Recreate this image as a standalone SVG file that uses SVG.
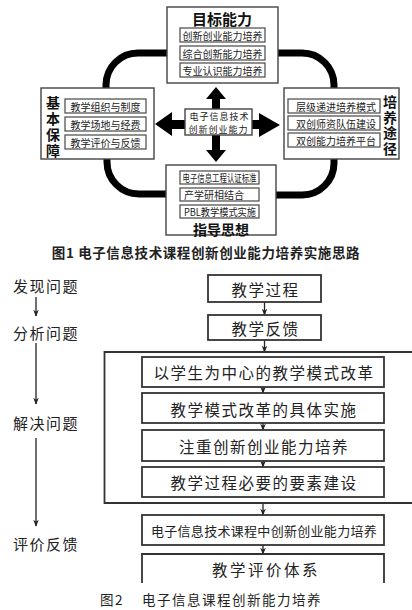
<svg xmlns="http://www.w3.org/2000/svg" width="412" height="610" viewBox="0 0 412 610">
<defs>
<style>
text{font-family:"Noto Sans CJK SC","Liberation Sans",sans-serif;fill:#222;}
.main{fill:#fff;stroke:#444;stroke-width:1.4;}
.sub{fill:#fff;stroke:#555;stroke-width:1.3;}
.st{font-size:10px;text-anchor:middle;dominant-baseline:central;}
.hd{font-size:15px;font-weight:bold;text-anchor:middle;dominant-baseline:central;fill:#111;}
.vt{font-size:14px;font-weight:bold;text-anchor:middle;writing-mode:vertical-rl;letter-spacing:2px;fill:#111;}
.curve{fill:none;stroke:#000;stroke-width:7;}
.blk{fill:#000;}
.box2{fill:#fff;stroke:#333;stroke-width:1.8;}
.t2{font-size:15.5px;text-anchor:middle;dominant-baseline:central;letter-spacing:1.5px;}
.lab{font-size:15px;text-anchor:middle;dominant-baseline:central;letter-spacing:1.5px;}
.ln{stroke:#222;stroke-width:1.3;fill:none;marker-end:url(#ah);}
.cap{font-size:13.5px;dominant-baseline:central;}
</style>
<marker id="ah" viewBox="0 0 10 10" refX="9" refY="5" markerWidth="7" markerHeight="7" markerUnits="userSpaceOnUse" orient="auto">
<path d="M0,1 L10,5 L0,9 L3,5 Z" fill="#222"/>
</marker>
</defs>

<g id="connectors1">
<path class="curve" d="M180,53 H138 A32,32 0 0 0 106,85 V89"/>
<path class="curve" d="M265,53 H302 A32,32 0 0 1 334,85 V89"/>
<path class="curve" d="M107,148 V162 A32,32 0 0 0 139,194 H181"/>
<path class="curve" d="M334,146 V163 A32,32 0 0 1 302,195 H260"/>
<polygon class="blk" points="216,87 226,99 220,99 220,109 212,109 212,99 206,99"/>
<polygon class="blk" points="216,162 226,150 220,150 220,135 212,135 212,150 206,150"/>
<polygon class="blk" points="155,124 172,112 172,120 185,120 185,129 172,129 172,136"/>
<polygon class="blk" points="280,125 259,113 259,120 252,120 252,129 259,129 259,137"/>
</g>

<g id="node-top">
<rect class="main" x="167" y="7" width="111" height="76"/>
<text class="hd" x="222" y="18">目标能力</text>
<rect class="sub" x="180" y="28" width="85" height="14"/>
<text class="st" x="222.5" y="35">创新创业能力培养</text>
<rect class="sub" x="180" y="46" width="85" height="14"/>
<text class="st" x="222.5" y="53">综合创新能力培养</text>
<rect class="sub" x="180" y="63" width="85" height="14"/>
<text class="st" x="222.5" y="70">专业认识能力培养</text>
</g>

<g id="node-left">
<rect class="main" x="41" y="88" width="113" height="71"/>
<text class="vt" x="53" y="128">基本保障</text>
<rect class="sub" x="65" y="99" width="81" height="14"/>
<text class="st" x="105.5" y="106">教学组织与制度</text>
<rect class="sub" x="65" y="117" width="81" height="14"/>
<text class="st" x="105.5" y="124">教学场地与经费</text>
<rect class="sub" x="65" y="135" width="81" height="14"/>
<text class="st" x="105.5" y="142">教学评价与反馈</text>
</g>

<g id="node-right">
<rect class="main" x="284" y="88" width="115" height="71"/>
<text class="vt" x="390" y="126" style="letter-spacing:1.5px">培养途径</text>
<rect class="sub" x="288" y="99" width="92" height="14"/>
<text class="st" x="336" y="106">层级递进培养模式</text>
<rect class="sub" x="288" y="116" width="92" height="14"/>
<text class="st" x="336" y="123">双创师资队伍建设</text>
<rect class="sub" x="288" y="133" width="92" height="14"/>
<text class="st" x="336" y="140">双创能力培养平台</text>
</g>

<g id="node-bottom">
<rect class="main" x="166" y="165" width="110" height="70"/>
<rect class="sub" x="180" y="171" width="79" height="13"/>
<text class="st" x="219.5" y="177.5" textLength="74" lengthAdjust="spacingAndGlyphs">电子信息工程认证标准</text>
<rect class="sub" x="180" y="188" width="79" height="13"/>
<text class="st" x="214" y="194.5">产学研相结合</text>
<rect class="sub" x="180" y="205" width="79" height="13"/>
<text class="st" x="220" y="211.5" textLength="72" lengthAdjust="spacingAndGlyphs">PBL教学模式实施</text>
<text class="hd" x="221" y="229" style="font-size:14px">指导思想</text>
</g>

<g id="node-center">
<rect class="main" x="185" y="109" width="67" height="26"/>
<text class="st" style="font-size:9px;letter-spacing:1px"><tspan x="219.5" y="116">电子信息技术</tspan><tspan x="218.5" y="129">创新创业能力</tspan></text>
</g>

<text class="cap" x="206" y="252" style="text-anchor:middle;font-weight:bold;letter-spacing:0.6px">图1 电子信息技术课程创新创业能力培养实施思路</text>

<g id="connectors2">
<line class="ln" x1="36" y1="297" x2="36" y2="316"/>
<line class="ln" x1="36" y1="343" x2="36" y2="404"/>
<line class="ln" x1="36" y1="438" x2="36" y2="526"/>
<line class="ln" x1="264.5" y1="302" x2="264.5" y2="315"/>
<line class="ln" x1="264.5" y1="340" x2="264.5" y2="352"/>
<line class="ln" x1="263" y1="387" x2="263" y2="393"/>
<line class="ln" x1="263" y1="423" x2="263" y2="430"/>
<line class="ln" x1="263" y1="461" x2="263" y2="467"/>
<line class="ln" x1="263" y1="503" x2="263" y2="515"/>
<line class="ln" x1="263" y1="545" x2="263" y2="554"/>
</g>

<g id="labels">
<text class="lab" x="46" y="285">发现问题</text>
<text class="lab" x="46" y="332">分析问题</text>
<text class="lab" x="46" y="422">解决问题</text>
<text class="lab" x="46" y="543">评价反馈</text>
</g>

<g id="node-process">
<rect class="box2" x="208" y="275" width="113" height="27"/>
<text class="t2" x="265.5" y="289">教学过程</text>
</g>
<g id="node-feedback">
<rect class="box2" x="208" y="315" width="113" height="25"/>
<text class="t2" x="265.5" y="328">教学反馈</text>
</g>
<g id="node-group">
<path fill="none" stroke="#333" stroke-width="1.8" d="M412,352 H104.5 V503 H412"/>
</g>
<g id="node-s1">
<rect class="box2" x="142" y="357" width="242" height="30"/>
<text class="t2" x="264" y="372">以学生为中心的教学模式改革</text>
</g>
<g id="node-s2">
<rect class="box2" x="142" y="393" width="242" height="30"/>
<text class="t2" x="264" y="409">教学模式改革的具体实施</text>
</g>
<g id="node-s3">
<rect class="box2" x="142" y="430" width="242" height="31"/>
<text class="t2" x="264" y="446">注重创新创业能力培养</text>
</g>
<g id="node-s4">
<rect class="box2" x="142" y="467" width="242" height="30"/>
<text class="t2" x="264" y="482">教学过程必要的要素建设</text>
</g>
<g id="node-result">
<rect class="box2" x="142" y="515" width="242" height="30"/>
<text class="t2" x="264" y="530" style="font-size:13px;letter-spacing:0.3px">电子信息技术课程中创新创业能力培养</text>
</g>
<g id="node-eval">
<path class="box2" d="M142,583 V554 H384 V583"/>
<text class="t2" x="266" y="569" style="letter-spacing:2.5px">教学评价体系</text>
</g>

<text class="cap" y="599" style="letter-spacing:1.5px"><tspan x="100">图2</tspan><tspan x="142">电子信息课程创新能力培养</tspan></text>
</svg>
